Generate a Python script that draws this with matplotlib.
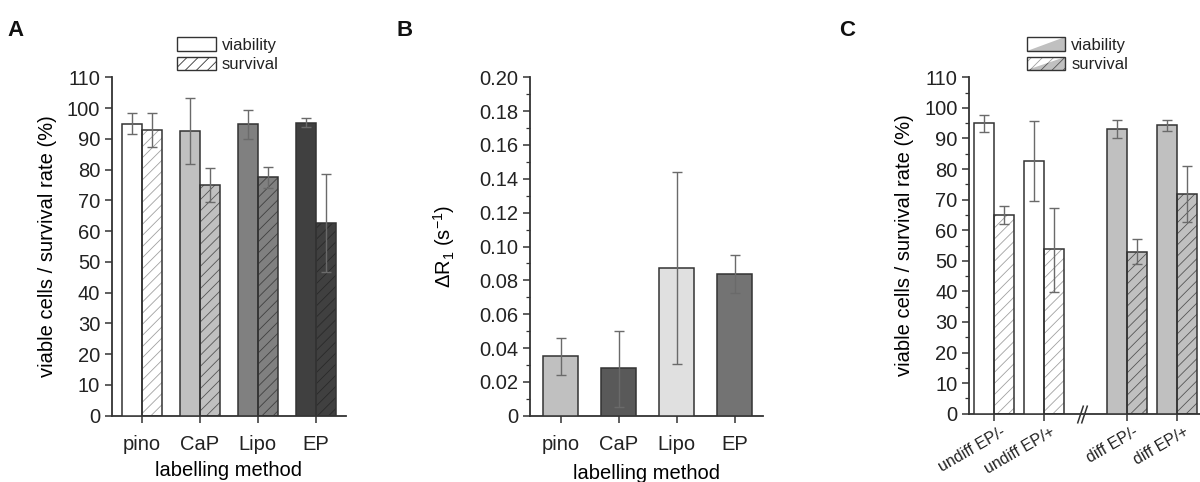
import matplotlib
matplotlib.use("Agg")
import matplotlib.pyplot as plt
import numpy as np
from matplotlib.legend_handler import HandlerBase
from matplotlib.patches import Polygon, Patch
from matplotlib.transforms import ScaledTranslation

plt.rcParams['font.family'] = ['Liberation Sans', 'DejaVu Sans']
plt.rcParams['mathtext.fontset'] = 'custom'
plt.rcParams['mathtext.rm'] = 'Liberation Sans'
plt.rcParams['mathtext.it'] = 'Liberation Sans:italic'
plt.rcParams['hatch.linewidth'] = 0.6
plt.rcParams['text.color'] = '#222222'
plt.rcParams['xtick.color'] = '#333333'
plt.rcParams['ytick.color'] = '#333333'
plt.rcParams['xtick.labelcolor'] = '#222222'
plt.rcParams['ytick.labelcolor'] = '#222222'

# --- panel A: viability / survival per labelling method
methods = ['pino', 'CaP', 'Lipo', 'EP']
a_viab = [94.9, 92.4, 94.7, 95.2]
a_viab_lo = [91.5, 81.7, 89.8, 93.7]
a_viab_hi = [98.3, 103.4, 99.5, 96.7]
a_surv = [92.9, 74.9, 77.5, 62.5]
a_surv_lo = [87.5, 69.4, 73.9, 46.6]
a_surv_hi = [98.3, 80.4, 80.8, 78.5]
a_colors = ['#ffffff', '#c0c0c0', '#808080', '#404040']
a_hatch_colors = ['#a0a0a0', '#555555', '#404040', '#2a2a2a']

# --- panel B: delta R1
b_vals = [0.0351, 0.0280, 0.0873, 0.0837]
b_lo = [0.0240, 0.0053, 0.0303, 0.0723]
b_hi = [0.0459, 0.0502, 0.1440, 0.0948]
b_colors = ['#c0c0c0', '#595959', '#e0e0e0', '#737373']

# --- panel C: undifferentiated vs differentiated cells
c_groups = ['undiff EP/-', 'undiff EP/+', 'diff EP/-', 'diff EP/+']
c_pos = [0, 1, 2.66, 3.66]
c_viab = [94.95, 82.7, 93.1, 94.3]
c_viab_lo = [92.0, 69.4, 90.0, 92.6]
c_viab_hi = [97.7, 95.8, 96.2, 96.2]
c_surv = [65.1, 53.7, 53.0, 71.9]
c_surv_lo = [62.0, 39.9, 48.8, 62.7]
c_surv_hi = [68.0, 67.4, 57.0, 81.1]
c_colors = ['#ffffff', '#ffffff', '#c0c0c0', '#c0c0c0']
c_hatch_colors = ['#a0a0a0', '#a0a0a0', '#555555', '#555555']

EDGE = '#333333'
ERR = '#6a6a6a'
FS = 14.5


def style_axes(ax):
    for s in ('top', 'right'):
        ax.spines[s].set_visible(False)
    for s in ('left', 'bottom'):
        ax.spines[s].set_linewidth(1.3)
        ax.spines[s].set_color(EDGE)
    ax.tick_params(direction='out', length=5, width=1.1, labelsize=FS)
    ax.tick_params(which='minor', direction='out', length=3, width=0.9)


def err(ax, x, v, lo, hi):
    v = np.asarray(v)
    yerr = [v - np.asarray(lo), np.asarray(hi) - v]
    ax.errorbar(x, v, yerr=yerr, fmt='none', ecolor=ERR, elinewidth=1.0,
                capsize=3.5, capthick=1.0, zorder=4)


def hatched_bars(ax, x, v, w, faces, hcolors):
    # hatch drawn in its own colour, outline drawn on top in dark grey
    for xi, vi, fc, hc in zip(x, v, faces, hcolors):
        ax.bar(xi, vi, w, align='edge', facecolor=fc, edgecolor=hc,
               hatch='///', linewidth=0, zorder=2)
        ax.bar(xi, vi, w, align='edge', fill=False, edgecolor=EDGE,
               linewidth=1.1, zorder=3)


fig = plt.figure(figsize=(12, 4.82), dpi=100)

# ---------------- A
axA = fig.add_axes([0.0933, 0.1375, 0.195, 0.7021])
xa = np.arange(len(methods))
wa = 0.345
axA.bar(xa - wa, a_viab, wa, align='edge', color=a_colors, edgecolor=EDGE,
        linewidth=1.1, zorder=3)
hatched_bars(axA, xa, a_surv, wa, a_colors, a_hatch_colors)
err(axA, xa - wa / 2, a_viab, a_viab_lo, a_viab_hi)
err(axA, xa + wa / 2, a_surv, a_surv_lo, a_surv_hi)
axA.set_xlim(-0.517, 3.52)
axA.set_ylim(0, 110)
axA.set_yticks(np.arange(0, 111, 10))
axA.set_xticks(xa)
axA.set_xticklabels(methods)
style_axes(axA)
axA.tick_params(axis='x', pad=9)
axA.set_xlabel('labelling method', fontsize=FS, labelpad=5)
axA.set_ylabel('viable cells / survival rate (%)', fontsize=FS, labelpad=7)
legA = axA.legend(handles=[Patch(facecolor='white', edgecolor=EDGE, linewidth=1.0),
                           Patch(facecolor='white', edgecolor='#a0a0a0', hatch='///',
                                 linewidth=1.0)],
                  labels=['viability', 'survival'], loc='lower left',
                  bbox_to_anchor=(0.28, 1.015), frameon=False, fontsize=12,
                  handlelength=2.3, handleheight=0.85, handletextpad=0.35,
                  labelspacing=0.25, borderpad=0, borderaxespad=0)
for h in legA.legend_handles:
    h.set_edgecolor(EDGE)
fig.text(0.006, 0.925, 'A', fontsize=16, fontweight='bold', color='#111111')

# ---------------- B
axB = fig.add_axes([0.4417, 0.1375, 0.1942, 0.7021])
xb = np.arange(len(methods))
axB.bar(xb, b_vals, 0.6, color=b_colors, edgecolor=EDGE, linewidth=1.1, zorder=3)
err(axB, xb, b_vals, b_lo, b_hi)
axB.set_xlim(-0.525, 3.485)
axB.set_ylim(0, 0.20)
axB.set_yticks(np.arange(0, 0.201, 0.02))
axB.set_yticklabels(['0'] + ['%.2f' % t for t in np.arange(0.02, 0.201, 0.02)])
axB.set_yticks(np.arange(0.01, 0.2, 0.02), minor=True)
axB.set_xticks(xb)
axB.set_xticklabels(methods)
style_axes(axB)
axB.tick_params(axis='x', pad=9)
axB.set_xlabel('labelling method', fontsize=FS, labelpad=7)
axB.set_ylabel(r'$\Delta$R$_{1}$ (s$^{-1}$)', fontsize=FS, labelpad=16)
fig.text(0.330, 0.925, 'B', fontsize=16, fontweight='bold', color='#111111')

# ---------------- C
axC = fig.add_axes([0.8078, 0.1417, 0.1922, 0.6979])
xc = np.asarray(c_pos)
wc = 0.4
axC.bar(xc - wc, c_viab, wc, align='edge', color=c_colors, edgecolor=EDGE,
        linewidth=1.1, zorder=3)
hatched_bars(axC, xc, c_surv, wc, c_colors, c_hatch_colors)
err(axC, xc - wc / 2, c_viab, c_viab_lo, c_viab_hi)
err(axC, xc + wc / 2, c_surv, c_surv_lo, c_surv_hi)
axC.set_xlim(-0.5, 4.11)
axC.set_ylim(0, 110)
axC.set_yticks(np.arange(0, 111, 10))
axC.set_yticks(np.arange(5, 110, 10), minor=True)
axC.set_xticks(xc)
axC.set_xticklabels(c_groups, rotation=30, ha='right', va='center',
                    rotation_mode='anchor', fontsize=11.5)
style_axes(axC)
axC.tick_params(axis='x', labelsize=11.5, pad=7)
# nudge the slanted labels so they end just right of their ticks
shift = ScaledTranslation(7 / 72, 0, fig.dpi_scale_trans)
for lab in axC.get_xticklabels():
    lab.set_transform(lab.get_transform() + shift)
axC.set_ylabel('viable cells / survival rate (%)', fontsize=FS, labelpad=7)
# axis break between the two cell states
axC.plot([1.72, 1.80], [0, 0], linestyle='none', marker=[(-1, -3), (1, 3)],
         markersize=13, markeredgewidth=1.1, color=EDGE, clip_on=False, zorder=5)


class SplitHandler(HandlerBase):
    def __init__(self, hatch=None):
        super().__init__()
        self.hatch = hatch

    def create_artists(self, legend, orig_handle, xd, yd, w, h, fontsize, trans):
        x0, y0 = -xd, -yd
        hc = '#a0a0a0' if self.hatch else None
        upper = Polygon([[x0, y0], [x0, y0 + h], [x0 + w, y0 + h]], closed=True,
                        facecolor='white', edgecolor=hc or 'none', hatch=self.hatch,
                        linewidth=0, transform=trans)
        lower = Polygon([[x0, y0], [x0 + w, y0], [x0 + w, y0 + h]], closed=True,
                        facecolor='#c0c0c0', edgecolor='#555555' if self.hatch else 'none',
                        hatch=self.hatch, linewidth=0, transform=trans)
        frame = Polygon([[x0, y0], [x0 + w, y0], [x0 + w, y0 + h], [x0, y0 + h]],
                        closed=True, fill=False, edgecolor=EDGE, linewidth=1.0,
                        transform=trans)
        return [upper, lower, frame]


hv = Patch(label='viability')
hs = Patch(label='survival')
axC.legend(handles=[hv, hs], labels=['viability', 'survival'], loc='lower left',
           bbox_to_anchor=(0.25, 1.015), frameon=False, fontsize=12,
           handlelength=2.3, handleheight=0.85, handletextpad=0.35,
           labelspacing=0.25, borderpad=0, borderaxespad=0,
           handler_map={hv: SplitHandler(), hs: SplitHandler('///')})
fig.text(0.699, 0.925, 'C', fontsize=16, fontweight='bold', color='#111111')

fig.savefig('out.png', dpi=100)
